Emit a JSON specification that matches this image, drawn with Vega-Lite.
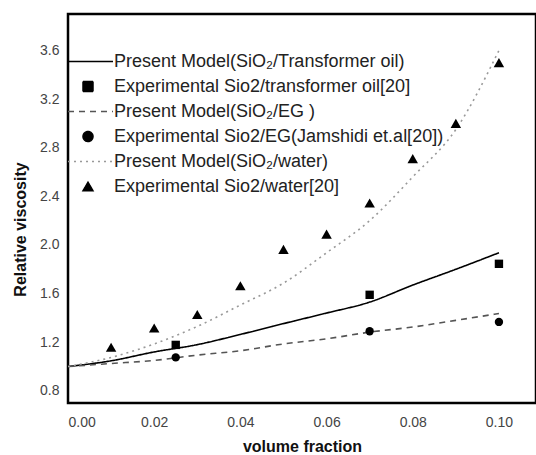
{
  "$schema": "https://vega.github.io/schema/vega-lite/v6.json",
  "width": 468,
  "height": 389,
  "autosize": {"type": "none"},
  "padding": {"left": 68, "top": 14, "right": 0, "bottom": 52},
  "background": "white",
  "config": {
    "view": {"stroke": "black", "strokeWidth": 2.5},
    "font": "Liberation Sans",
    "axis": {"grid": false, "labelFont": "Liberation Sans", "titleFont": "Liberation Sans", "tickColor": "black", "domainColor": "black", "labelOverlap": false, "labelBound": false}
  },
  "datasets": {
    "all": [
      {"x": 0.0, "y": 1.0, "series": "Present Model(SiO₂/Transformer oil)", "kind": "model"},
      {"x": 0.01, "y": 1.047, "series": "Present Model(SiO₂/Transformer oil)", "kind": "model"},
      {"x": 0.02, "y": 1.12, "series": "Present Model(SiO₂/Transformer oil)", "kind": "model"},
      {"x": 0.03, "y": 1.18, "series": "Present Model(SiO₂/Transformer oil)", "kind": "model"},
      {"x": 0.04, "y": 1.264, "series": "Present Model(SiO₂/Transformer oil)", "kind": "model"},
      {"x": 0.05, "y": 1.353, "series": "Present Model(SiO₂/Transformer oil)", "kind": "model"},
      {"x": 0.06, "y": 1.44, "series": "Present Model(SiO₂/Transformer oil)", "kind": "model"},
      {"x": 0.07, "y": 1.53, "series": "Present Model(SiO₂/Transformer oil)", "kind": "model"},
      {"x": 0.08, "y": 1.67, "series": "Present Model(SiO₂/Transformer oil)", "kind": "model"},
      {"x": 0.09, "y": 1.80, "series": "Present Model(SiO₂/Transformer oil)", "kind": "model"},
      {"x": 0.10, "y": 1.936, "series": "Present Model(SiO₂/Transformer oil)", "kind": "model"},
      {"x": 0.025, "y": 1.178, "series": "Experimental Sio2/transformer oil[20]", "kind": "exp"},
      {"x": 0.07, "y": 1.59, "series": "Experimental Sio2/transformer oil[20]", "kind": "exp"},
      {"x": 0.10, "y": 1.845, "series": "Experimental Sio2/transformer oil[20]", "kind": "exp"},
      {"x": 0.0, "y": 1.0, "series": "Present Model(SiO₂/EG )", "kind": "model"},
      {"x": 0.01, "y": 1.025, "series": "Present Model(SiO₂/EG )", "kind": "model"},
      {"x": 0.02, "y": 1.05, "series": "Present Model(SiO₂/EG )", "kind": "model"},
      {"x": 0.03, "y": 1.094, "series": "Present Model(SiO₂/EG )", "kind": "model"},
      {"x": 0.04, "y": 1.13, "series": "Present Model(SiO₂/EG )", "kind": "model"},
      {"x": 0.05, "y": 1.186, "series": "Present Model(SiO₂/EG )", "kind": "model"},
      {"x": 0.06, "y": 1.228, "series": "Present Model(SiO₂/EG )", "kind": "model"},
      {"x": 0.07, "y": 1.283, "series": "Present Model(SiO₂/EG )", "kind": "model"},
      {"x": 0.08, "y": 1.325, "series": "Present Model(SiO₂/EG )", "kind": "model"},
      {"x": 0.09, "y": 1.38, "series": "Present Model(SiO₂/EG )", "kind": "model"},
      {"x": 0.10, "y": 1.436, "series": "Present Model(SiO₂/EG )", "kind": "model"},
      {"x": 0.025, "y": 1.075, "series": "Experimental Sio2/EG(Jamshidi et.al[20])", "kind": "exp"},
      {"x": 0.07, "y": 1.29, "series": "Experimental Sio2/EG(Jamshidi et.al[20])", "kind": "exp"},
      {"x": 0.10, "y": 1.367, "series": "Experimental Sio2/EG(Jamshidi et.al[20])", "kind": "exp"},
      {"x": 0.0, "y": 1.0, "series": "Present Model(SiO₂/water)", "kind": "model"},
      {"x": 0.01, "y": 1.075, "series": "Present Model(SiO₂/water)", "kind": "model"},
      {"x": 0.02, "y": 1.186, "series": "Present Model(SiO₂/water)", "kind": "model"},
      {"x": 0.03, "y": 1.33, "series": "Present Model(SiO₂/water)", "kind": "model"},
      {"x": 0.04, "y": 1.506, "series": "Present Model(SiO₂/water)", "kind": "model"},
      {"x": 0.05, "y": 1.686, "series": "Present Model(SiO₂/water)", "kind": "model"},
      {"x": 0.06, "y": 1.936, "series": "Present Model(SiO₂/water)", "kind": "model"},
      {"x": 0.07, "y": 2.2, "series": "Present Model(SiO₂/water)", "kind": "model"},
      {"x": 0.08, "y": 2.56, "series": "Present Model(SiO₂/water)", "kind": "model"},
      {"x": 0.09, "y": 2.95, "series": "Present Model(SiO₂/water)", "kind": "model"},
      {"x": 0.10, "y": 3.6, "series": "Present Model(SiO₂/water)", "kind": "model"},
      {"x": 0.01, "y": 1.158, "series": "Experimental Sio2/water[20]", "kind": "exp"},
      {"x": 0.02, "y": 1.317, "series": "Experimental Sio2/water[20]", "kind": "exp"},
      {"x": 0.03, "y": 1.428, "series": "Experimental Sio2/water[20]", "kind": "exp"},
      {"x": 0.04, "y": 1.664, "series": "Experimental Sio2/water[20]", "kind": "exp"},
      {"x": 0.05, "y": 1.964, "series": "Experimental Sio2/water[20]", "kind": "exp"},
      {"x": 0.06, "y": 2.089, "series": "Experimental Sio2/water[20]", "kind": "exp"},
      {"x": 0.07, "y": 2.345, "series": "Experimental Sio2/water[20]", "kind": "exp"},
      {"x": 0.08, "y": 2.71, "series": "Experimental Sio2/water[20]", "kind": "exp"},
      {"x": 0.09, "y": 3.0, "series": "Experimental Sio2/water[20]", "kind": "exp"},
      {"x": 0.10, "y": 3.5, "series": "Experimental Sio2/water[20]", "kind": "exp"}
    ]
  },
  "data": {"name": "all"},
  "layer": [
    {
      "transform": [{"filter": "datum.kind == 'model'"}],
      "mark": {"type": "line", "interpolate": "monotone", "strokeWidth": 1.6},
      "encoding": {
        "x": {"field": "x", "type": "quantitative", "scale": {"domain": [0, 0.1086], "nice": false, "zero": false},
          "axis": {"orient": "bottom", "values": [0, 0.02, 0.04, 0.06, 0.08, 0.1], "format": ".2f", "ticks": false, "domain": false, "labelFontSize": 14, "labelColor": "#444", "labelPadding": 12, "title": "volume fraction", "titleFontSize": 16, "titleFontWeight": "bold", "titleColor": "#111", "titlePadding": 9}},
        "y": {"field": "y", "type": "quantitative", "scale": {"domain": [0.7, 3.9], "nice": false, "zero": false},
          "axis": {"orient": "left", "values": [0.8, 1.0, 1.2, 1.4, 1.6, 1.8, 2.0, 2.2, 2.4, 2.6, 2.8, 3.0, 3.2, 3.4, 3.6, 3.8], "format": ".1f", "ticks": false, "domain": false, "labelOverlap": false, "labelFontSize": 14, "labelColor": "#444", "labelPadding": 9, "title": "Relative viscosity", "titleFontSize": 16, "titleFontWeight": "bold", "titleColor": "#111", "titleX": -48, "titleY": 215, "titleAlign": "center", "titleBaseline": "middle", "titleAngle": 270}},
        "color": {"field": "series", "type": "nominal",
          "scale": {"domain": ["Present Model(SiO₂/Transformer oil)", "Experimental Sio2/transformer oil[20]", "Present Model(SiO₂/EG )", "Experimental Sio2/EG(Jamshidi et.al[20])", "Present Model(SiO₂/water)", "Experimental Sio2/water[20]"],
                    "range": ["#000000", "#000000", "#555555", "#000000", "#999999", "#000000"]},
          "legend": {"title": null, "orient": "none", "legendX": 11, "legendY": 38.5, "padding": 0, "labelFontSize": 18, "labelColor": "#222", "labelFont": "Liberation Sans", "labelLimit": 0, "labelOffset": 17, "symbolSize": 100, "rowPadding": 7, "symbolStrokeWidth": 1.5}},
        "strokeDash": {"field": "series", "type": "nominal",
          "scale": {"domain": ["Present Model(SiO₂/Transformer oil)", "Experimental Sio2/transformer oil[20]", "Present Model(SiO₂/EG )", "Experimental Sio2/EG(Jamshidi et.al[20])", "Present Model(SiO₂/water)", "Experimental Sio2/water[20]"],
                    "range": [[1, 0], [1, 0], [6, 5], [1, 0], [2, 4], [1, 0]]},
          "legend": {"title": null, "orient": "none", "legendX": 11, "legendY": 38.5, "padding": 0, "labelFontSize": 18, "labelColor": "#222", "labelFont": "Liberation Sans", "labelLimit": 0, "labelOffset": 17, "symbolSize": 100, "rowPadding": 7, "symbolStrokeWidth": 1.5}}
      }
    },
    {
      "transform": [{"filter": "datum.kind == 'exp' && indexof(datum.series, 'water') < 0"}],
      "mark": {"type": "point", "filled": true, "size": 70, "opacity": 1},
      "encoding": {
        "x": {"field": "x", "type": "quantitative"},
        "y": {"field": "y", "type": "quantitative"},
        "color": {"field": "series", "type": "nominal"},
        "shape": {"field": "series", "type": "nominal",
          "scale": {"domain": ["Present Model(SiO₂/Transformer oil)", "Experimental Sio2/transformer oil[20]", "Present Model(SiO₂/EG )", "Experimental Sio2/EG(Jamshidi et.al[20])", "Present Model(SiO₂/water)", "Experimental Sio2/water[20]"],
                    "range": ["M-4,0H5", "square", "M-4,0H5", "circle", "M-4,0H5", "triangle-up"]},
          "legend": {"title": null, "orient": "none", "legendX": 11, "legendY": 38.5, "padding": 0, "labelFontSize": 18, "labelColor": "#222", "labelFont": "Liberation Sans", "labelLimit": 0, "labelOffset": 17, "symbolSize": 100, "rowPadding": 7, "symbolStrokeWidth": 1.5}}
      }
    },
    {
      "transform": [{"filter": "datum.kind == 'exp' && indexof(datum.series, 'water') >= 0"}],
      "mark": {"type": "point", "filled": true, "size": 110, "opacity": 1},
      "encoding": {
        "x": {"field": "x", "type": "quantitative"},
        "y": {"field": "y", "type": "quantitative"},
        "color": {"field": "series", "type": "nominal"},
        "shape": {"field": "series", "type": "nominal"}
      }
    }
  ]
}
